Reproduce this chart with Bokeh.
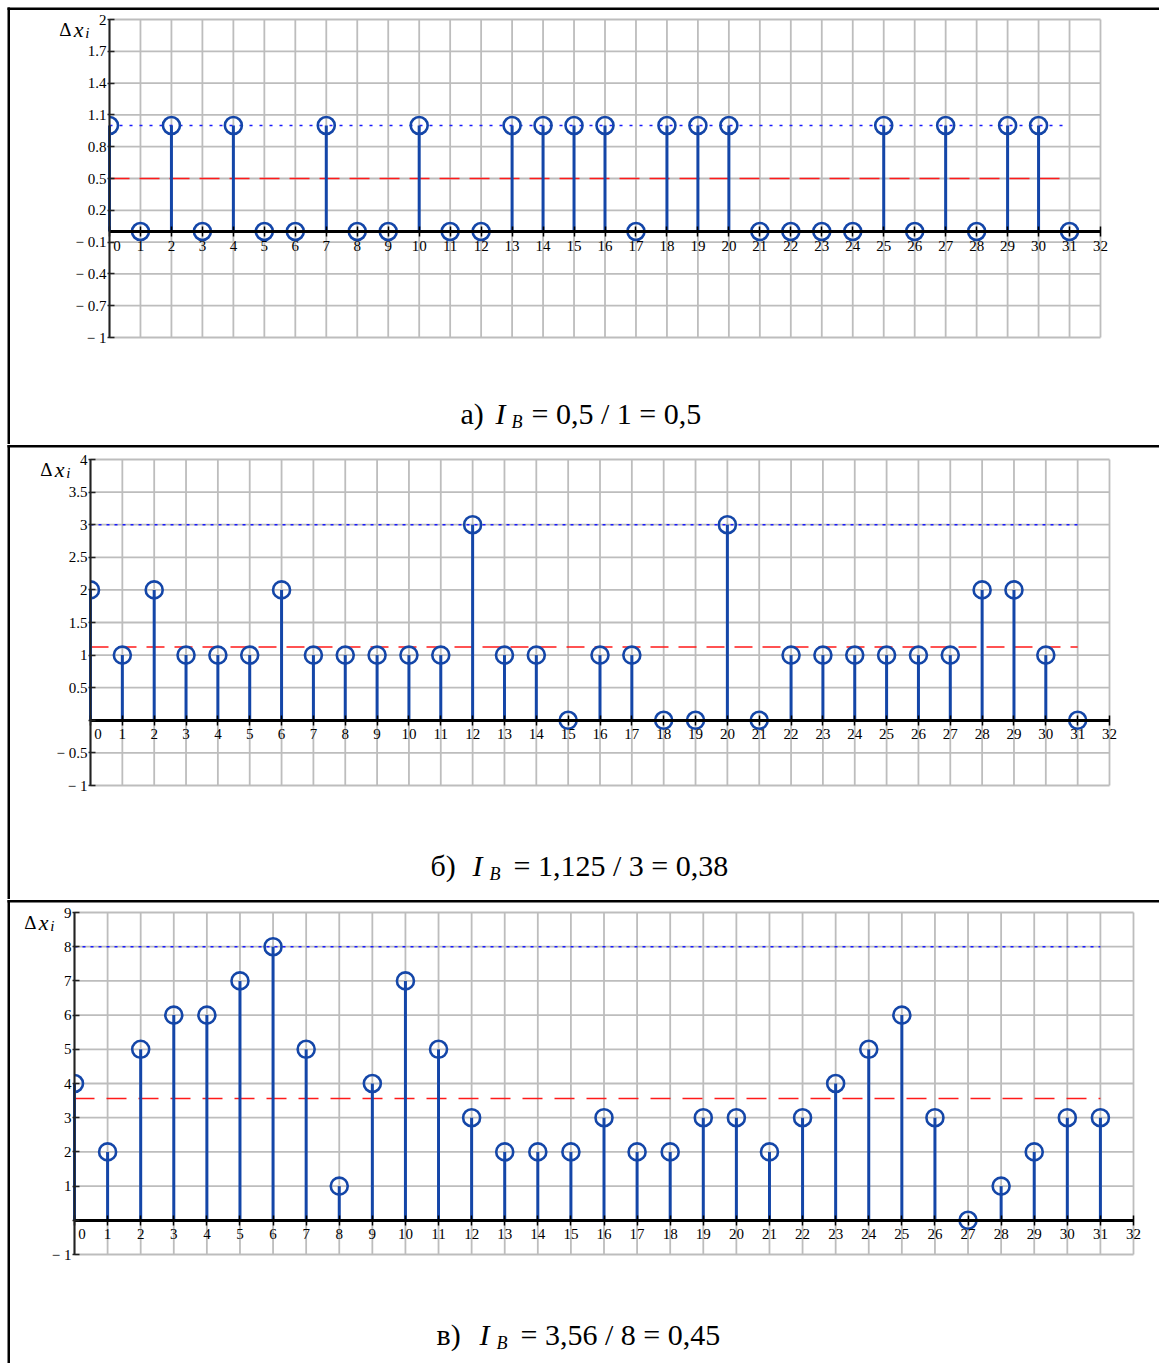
import math
import numpy as np
from bokeh.plotting import figure
from bokeh.layouts import column
from bokeh.models import Range1d, FixedTicker, Label, BoxAnnotation, CustomJSTickFormatter
from bokeh.embed import file_html
from bokeh.resources import INLINE

# ---------------- data ----------------
x_idx = list(range(32))
x_ticks = list(range(33))
x_tick_labels = [str(t) for t in x_ticks]

values_a = [1, 0, 1, 0, 1, 0, 0, 1, 0, 0, 1, 0, 0, 1, 1, 1, 1, 0, 1, 1, 1, 0, 0, 0, 0, 1, 0, 1, 0, 1, 1, 0]
values_b = [2, 1, 2, 1, 1, 1, 2, 1, 1, 1, 1, 1, 3, 1, 1, 0, 1, 1, 0, 0, 3, 0, 1, 1, 1, 1, 1, 1, 2, 2, 1, 0]
values_c = [4, 2, 5, 6, 6, 7, 8, 5, 1, 4, 7, 5, 3, 2, 2, 2, 3, 2, 2, 3, 3, 2, 3, 4, 5, 6, 3, 0, 1, 2, 3, 3]

yticks_a = [-1, -0.7, -0.4, -0.1, 0.2, 0.5, 0.8, 1.1, 1.4, 1.7, 2]
ylabels_a = ["\u2212 1", "\u2212 0.7", "\u2212 0.4", "\u2212 0.1", "0.2", "0.5", "0.8", "1.1", "1.4", "1.7", "2"]
yticks_b = [-1, -0.5, 0, 0.5, 1, 1.5, 2, 2.5, 3, 3.5, 4]
ylabels_b = ["\u2212 1", "\u2212 0.5", "", "0.5", "1", "1.5", "2", "2.5", "3", "3.5", "4"]
yticks_c = [-1, 0, 1, 2, 3, 4, 5, 6, 7, 8, 9]
ylabels_c = ["\u2212 1", "", "1", "2", "3", "4", "5", "6", "7", "8", "9"]

caption_a = ("а)", "= 0,5 / 1 = 0,5")
caption_b = ("б)", "= 1,125 / 3 = 0,38")
caption_c = ("в)", "= 3,56 / 8 = 0,45")

# ---------------- style ----------------
STEM = "#1446a8"
SERIF = "Liberation Serif"
GRID = "#bdbdbd"
W = 1159

LABEL_JS = """
    let b = 0;
    for (let i = 0; i < t.length; i++) {
        if (Math.abs(t[i] - tick) < Math.abs(t[b] - tick)) b = i;
    }
    return l[b];
"""


def make_panel(values, yticks, ylabels, H, fl, fr, ft, fb, border_top, caption,
               cap_x, cap_base, red_dash, blue_dash):
    ymin, ymax = yticks[0], yticks[-1]
    xmin, xmax = x_ticks[0], x_ticks[-1]
    sx = (fr - fl) / (xmax - xmin)
    sy = (fb - ft) / (ymax - ymin)
    x_range = Range1d(xmin - fl / sx, xmax + (W - fr) / sx)
    y_range = Range1d(ymin - (H - fb) / sy, ymax + ft / sy)

    p = figure(width=W, height=H, output_backend="svg", toolbar_location=None,
               x_range=x_range, y_range=y_range,
               min_border_left=0, min_border_right=0,
               min_border_top=0, min_border_bottom=0)
    p.background_fill_color = "white"
    p.border_fill_color = "white"
    p.outline_line_color = None
    p.grid.visible = False

    # grid (drawn from the tick arrays)
    p.segment(x0=x_ticks, y0=[ymin] * len(x_ticks), x1=x_ticks, y1=[ymax] * len(x_ticks),
              line_color=GRID, line_width=1.8)
    p.segment(x0=[xmin] * len(yticks), y0=yticks, x1=[xmax] * len(yticks), y1=yticks,
              line_color=GRID, line_width=1.8)

    # axes
    xl = list(x_tick_labels)
    xl[0] = "\u2002\u2002" + xl[0]
    p.xaxis.ticker = FixedTicker(ticks=x_ticks)
    p.xaxis.formatter = CustomJSTickFormatter(args=dict(t=x_ticks, l=xl), code=LABEL_JS)
    p.xaxis.fixed_location = 0
    p.xaxis.bounds = (xmin, xmax)
    p.xaxis.axis_line_color = "black"
    p.xaxis.axis_line_width = 3
    p.xaxis.major_tick_in = 5
    p.xaxis.major_tick_out = 5
    p.xaxis.major_tick_line_width = 1.5
    p.xaxis.major_tick_line_color = "black"
    p.xaxis.minor_tick_line_color = None
    p.xaxis.major_label_standoff = 1
    p.xaxis.major_label_text_font = SERIF
    p.xaxis.major_label_text_font_size = "15px"
    p.xaxis.major_label_text_color = "black"

    p.yaxis.ticker = FixedTicker(ticks=yticks)
    p.yaxis.fixed_location = 0
    p.yaxis.bounds = (ymin, ymax)
    p.yaxis.formatter = CustomJSTickFormatter(args=dict(t=yticks, l=ylabels), code=LABEL_JS)
    p.yaxis.axis_line_color = "#222222"
    p.yaxis.axis_line_width = 2
    p.yaxis.major_tick_in = 5
    p.yaxis.major_tick_out = 2
    p.yaxis.major_tick_line_width = 1.5
    p.yaxis.major_tick_line_color = "#222222"
    p.yaxis.minor_tick_line_color = None
    p.yaxis.major_label_standoff = 1
    p.yaxis.major_label_text_font = SERIF
    p.yaxis.major_label_text_font_size = "15px"
    p.yaxis.major_label_text_color = "black"

    # reference lines (maximum and mean)
    vmax = max(values)
    vmean = float(np.mean(values))
    p.line([x_idx[0], x_idx[-1]], [vmax, vmax], line_color="#1a1aff",
           line_width=1.6, line_dash=blue_dash)
    p.line([x_idx[0], x_idx[-1]], [vmean, vmean], line_color="#ff1a1a",
           line_width=1.6, line_dash=red_dash)

    # stems
    p.segment(x0=x_idx, y0=[0] * len(values), x1=x_idx, y1=values,
              line_color=STEM, line_width=3)
    # markers: the one on the left edge is clipped by the plot area (half circle)
    edge_x = [x for x in x_idx if x == xmin]
    edge_y = [v for x, v in zip(x_idx, values) if x == xmin]
    in_x = [x for x in x_idx if x != xmin]
    in_y = [v for x, v in zip(x_idx, values) if x != xmin]
    p.scatter(in_x, in_y, marker="circle", size=17, fill_color=None,
              line_color=STEM, line_width=2.6)
    p.arc(x=edge_x, y=edge_y, radius=8.5, radius_units="screen",
          start_angle=-math.pi / 2, end_angle=math.pi / 2,
          line_color=STEM, line_width=2.6)

    # axis title  Δx_i  (canvas units, y measured from top)
    base = ft + 10
    p.add_layout(Label(x=fl - 38, y=base, x_units="canvas", y_units="canvas",
                       text="Δ", text_align="right", text_baseline="alphabetic",
                       text_font=SERIF, text_font_size="19px", text_color="black"))
    p.add_layout(Label(x=fl - 26, y=base, x_units="canvas", y_units="canvas",
                       text="x", text_align="right", text_baseline="alphabetic",
                       text_font=SERIF, text_font_style="italic",
                       text_font_size="22px", text_color="black"))
    p.add_layout(Label(x=fl - 20, y=base + 3, x_units="canvas", y_units="canvas",
                       text="i", text_align="right", text_baseline="alphabetic",
                       text_font=SERIF, text_font_style="italic",
                       text_font_size="15px", text_color="black"))

    # caption
    letter, rest = caption
    cy = cap_base
    p.add_layout(Label(x=cap_x[0], y=cy, x_units="canvas", y_units="canvas",
                       text=letter, text_baseline="alphabetic",
                       text_font=SERIF, text_font_size="30px", text_color="black"))
    p.add_layout(Label(x=cap_x[1], y=cy, x_units="canvas", y_units="canvas",
                       text="I", text_baseline="alphabetic", text_font_style="italic",
                       text_font=SERIF, text_font_size="30px", text_color="black"))
    p.add_layout(Label(x=cap_x[2], y=cy + 8, x_units="canvas", y_units="canvas",
                       text="В", text_baseline="alphabetic", text_font_style="italic",
                       text_font=SERIF, text_font_size="18px", text_color="black"))
    p.add_layout(Label(x=cap_x[3], y=cy, x_units="canvas", y_units="canvas",
                       text=rest, text_baseline="alphabetic",
                       text_font=SERIF, text_font_size="30px", text_color="black"))

    # table borders
    t0, t1 = border_top
    p.add_layout(BoxAnnotation(left=7, right=W, top=t0, bottom=t1,
                               left_units="canvas", right_units="canvas",
                               top_units="canvas", bottom_units="canvas",
                               fill_color="black", fill_alpha=1, line_color=None,
                               level="overlay"))
    p.add_layout(BoxAnnotation(left=7, right=9.5, top=t0, bottom=H,
                               left_units="canvas", right_units="canvas",
                               top_units="canvas", bottom_units="canvas",
                               fill_color="black", fill_alpha=1, line_color=None,
                               level="overlay"))
    return p


p1 = make_panel(values_a, yticks_a, ylabels_a, 444, 109, 1100, 19, 337, (7, 9.5),
                caption_a, (460, 495, 511, 531), 413, "20 10", "3 7")
p2 = make_panel(values_b, yticks_b, ylabels_b, 455, 90, 1109, 15, 341, (0.5, 3),
                caption_b, (430, 472, 489, 513), 421, "18 10", "3 5")
p3 = make_panel(values_c, yticks_c, ylabels_c, 464, 74, 1133, 13, 355, (0.5, 3),
                caption_c, (436, 479, 496, 520), 435, "20 12", "3 5")

layout = column(p1, p2, p3, spacing=0)
open("out.html", "w").write(file_html(layout, INLINE))
